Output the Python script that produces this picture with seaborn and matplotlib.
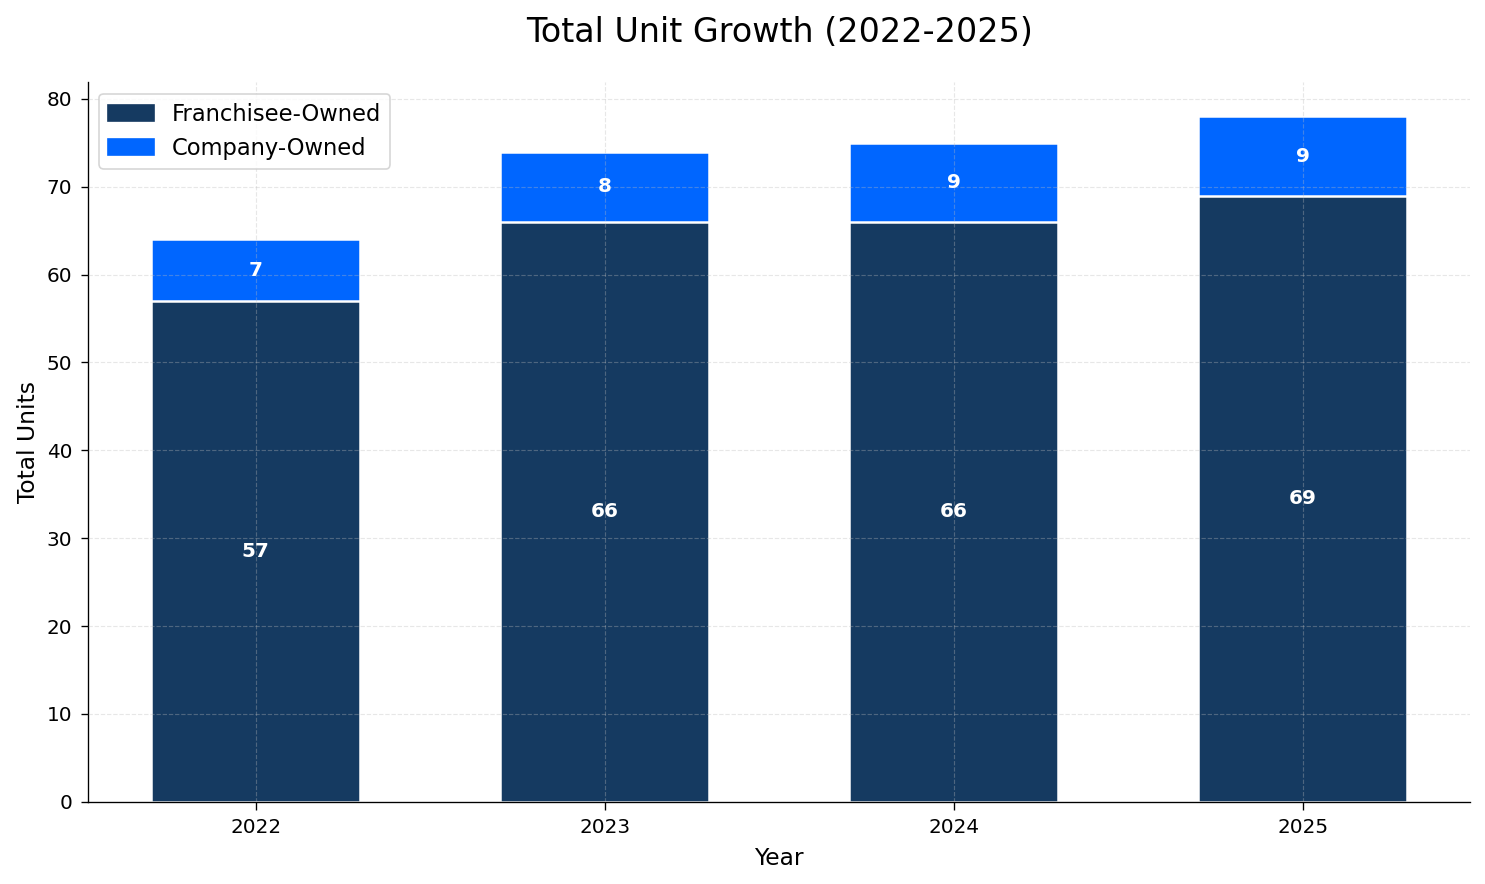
import matplotlib
matplotlib.use("Agg")
import matplotlib.pyplot as plt
import seaborn as sns
import pandas as pd
from matplotlib.patches import Patch

years = ["2022", "2023", "2024", "2025"]
franchisee = [57, 66, 66, 69]
company = [7, 8, 9, 9]

navy = "#153a61"
blue = "#0066ff"

df = pd.DataFrame({"Year": years, "Franchisee": franchisee, "Company": company})
df["Total"] = df["Franchisee"] + df["Company"]

sns.set_style("white", rc={
    "text.color": "black",
    "axes.labelcolor": "black",
    "xtick.color": "black",
    "ytick.color": "black",
    "axes.edgecolor": "black",
    "xtick.bottom": True,
    "ytick.left": True,
})
plt.rcParams["font.family"] = ["DejaVu Sans"]

fig, ax = plt.subplots(figsize=(12.375, 7.367), dpi=120)

sns.barplot(data=df, x="Year", y="Total", color=blue, width=0.6,
            edgecolor="white", linewidth=1.5, saturation=1, ax=ax)
sns.barplot(data=df, x="Year", y="Franchisee", color=navy, width=0.6,
            edgecolor="white", linewidth=1.5, saturation=1, ax=ax)

for i, (f, c) in enumerate(zip(franchisee, company)):
    ax.text(i, f / 2, str(f), ha="center", va="center", color="white",
            fontsize=12, fontweight="bold")
    ax.text(i, f + c / 2, str(c), ha="center", va="center", color="white",
            fontsize=12, fontweight="bold")

ax.set_xlim(-0.48, len(years) - 1 + 0.48)
ax.set_ylim(0, max(df["Total"]) * 1.05)
ax.set_title("Total Unit Growth (2022-2025)", fontsize=20, pad=24)
ax.set_xlabel("Year", fontsize=14, labelpad=6)
ax.set_ylabel("Total Units", fontsize=14, labelpad=4)
ax.tick_params(axis="both", labelsize=12, length=4.5, pad=5)
ax.grid(True, linestyle="--", color="#bbbbbb", alpha=0.35, linewidth=0.7)
ax.set_axisbelow(False)
sns.despine(ax=ax)

handles = [Patch(color=navy, label="Franchisee-Owned"),
           Patch(color=blue, label="Company-Owned")]
ax.legend(handles=handles, loc="upper left", fontsize=13.6, frameon=True)

fig.subplots_adjust(left=0.0593, right=0.99, top=0.907, bottom=0.093)
plt.savefig("out.png", dpi=120)
